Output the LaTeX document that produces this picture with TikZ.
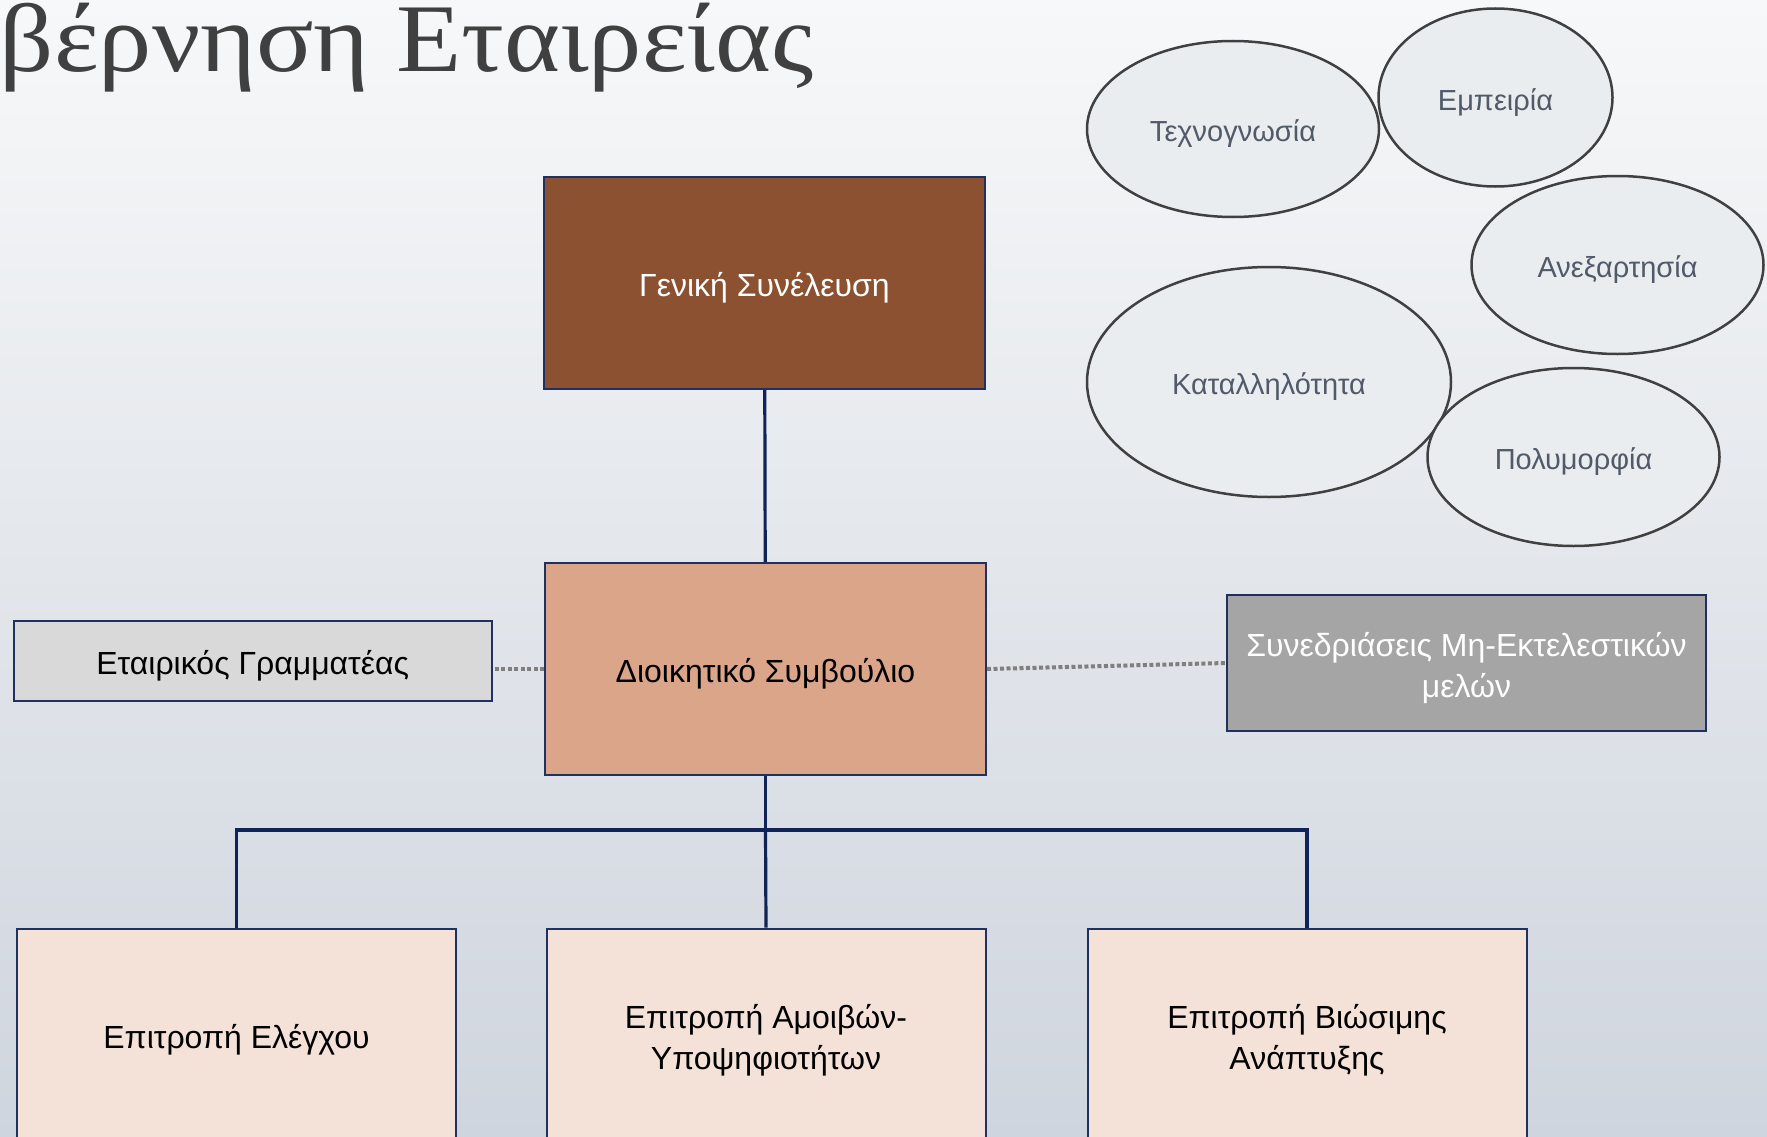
\documentclass[tikz,border=0pt]{standalone}
\usepackage{graphicx}
\usepackage{fontspec}
\setmainfont{Liberation Sans}
\newfontfamily\titlefont{Liberation Serif}
\usetikzlibrary{shapes.geometric}
\definecolor{bgtop}{HTML}{F7F8F9}
\definecolor{bgbot}{HTML}{CFD5DE}
\definecolor{boxline}{HTML}{1F3160}
\definecolor{linknavy}{HTML}{0E2458}
\definecolor{gsbrown}{HTML}{8B5130}
\definecolor{dsorange}{HTML}{DBA58A}
\definecolor{grlight}{HTML}{D9D9D9}
\definecolor{smegray}{HTML}{A5A5A5}
\definecolor{compeach}{HTML}{F4E1D7}
\definecolor{dotgray}{HTML}{7F7F7F}
\definecolor{titlegray}{HTML}{404040}
\definecolor{bubblefill}{HTML}{EAEDF0}
\definecolor{bubbleline}{HTML}{404040}
\definecolor{bubbletext}{HTML}{515A69}

\begin{document}
\begin{tikzpicture}[x=1pt, y=-1pt,
    box/.style={draw=boxline, line width=2pt, inner sep=0pt},
    boxtext/.style={align=center, inner sep=0pt, yshift=-5pt, font=\fontsize{32}{41}\selectfont},
    bubble/.style={ellipse, draw=bubbleline, line width=2.5pt, fill=bubblefill, inner sep=0pt},
    bubbletxt/.style={inner sep=0pt, yshift=-5pt, text=bubbletext, font=\fontsize{29}{34}\selectfont},
    link/.style={draw=linknavy, line width=3.2pt},
    dotlink/.style={draw=dotgray, line width=4pt, dash pattern=on 4pt off 2.5pt}]
  \useasboundingbox (0,0) rectangle (1767,1137);
  \shade[top color=bgtop, bottom color=bgbot] (0,0) rectangle (1767,1137);
  \node[anchor=base east, inner sep=0pt, text=titlegray, font=\titlefont\fontsize{97}{110}\selectfont] (title) at (814,72) {\scalebox{1.1}[1]{βέρνηση Εταιρείας}};

  \node[box, fill=gsbrown, minimum width=441, minimum height=212, label={[boxtext, text=white]center:Γενική Συνέλευση}] (gs) at (764.5,283) {};
  \node[box, fill=dsorange, minimum width=441, minimum height=212, label={[boxtext]center:Διοικητικό Συμβούλιο}] (ds) at (765.5,669) {};
  \node[box, fill=grlight, minimum width=478, minimum height=80, label={[boxtext]center:Εταιρικός Γραμματέας}] (gram) at (252.75,661) {};
  \node[box, fill=smegray, minimum width=479, minimum height=136, label={[boxtext, text=white]center:{Συνεδριάσεις Μη-Εκτελεστικών\\μελών}}] (sme) at (1466.5,663) {};
  \foreach \name/\cx/\txt in {el/236.5/Επιτροπή Ελέγχου, am/766/{Επιτροπή Αμοιβών-\\Υποψηφιοτήτων}, bv/1307/{Επιτροπή Βιώσιμης\\Ανάπτυξης}}
    \node[box, fill=compeach, minimum width=439, minimum height=213, label={[boxtext]center:{\txt}}] (\name) at (\cx,1035) {};

  \foreach \name/\cx/\cy/\rx/\ry/\txt in {tech/1233/129/146/88/Τεχνογνωσία, emp/1495.5/97.5/117/89/Εμπειρία, anex/1617.5/265/146/89/Ανεξαρτησία, kat/1269/382/182/115/Καταλληλότητα, pol/1573.5/457/146/89/Πολυμορφία}
    \node[bubble, minimum width=2*\rx, minimum height=2*\ry, label={[bubbletxt]center:\txt}] (\name) at (\cx,\cy) {};

  \draw[link] (gs) -- (ds);
  \draw[link] (ds.south) -- ++(0,54) coordinate (split);
  \draw[link] (el.north) |- (split) -| (bv.north);
  \draw[link] (split) -- (am.north);
  \draw[dotlink] (ds.west) -- (ds.west -| gram.east);
  \draw[dotlink] (ds.east) -- (sme.west);
\end{tikzpicture}
\end{document}
